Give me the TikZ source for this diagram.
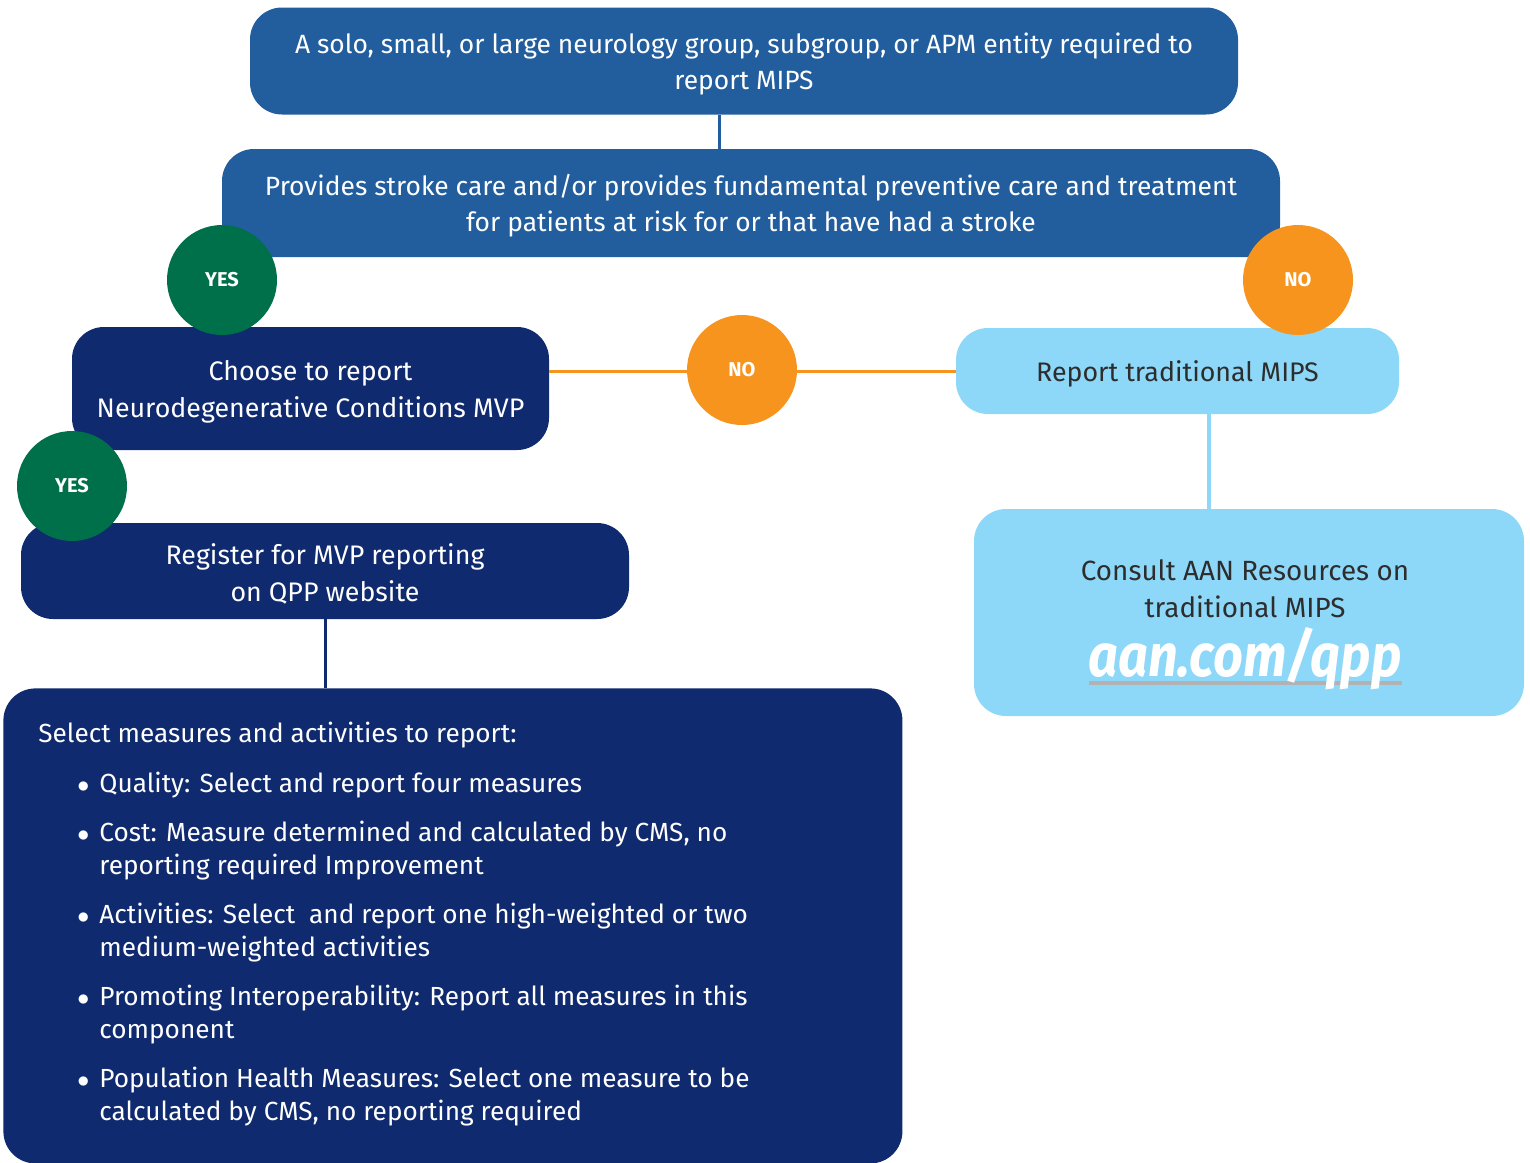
\documentclass[tikz,border=0pt]{standalone}
\usepackage{fontspec}
\setmainfont{Fira Sans}
\definecolor{midblue}{RGB}{34,94,158}
\definecolor{navy}{RGB}{15,42,110}
\definecolor{skyblue}{RGB}{141,216,248}
\definecolor{yesgreen}{RGB}{0,112,74}
\definecolor{noorange}{RGB}{247,148,29}
\definecolor{darktext}{RGB}{45,45,45}
\newcommand{\bul}{\llap{$\bullet$\hspace{5pt}}}
\newcommand{\topline}{\rule{0pt}{1em}}

\begin{document}
\begin{tikzpicture}[x=0.5pt,y=-0.5pt,
    box/.style={rounded corners=16pt, inner sep=0pt, align=center, font=\fontsize{13.4}{18.5}\selectfont, execute at begin node={\topline}},
    midbox/.style={box, fill=midblue, text=white, font=\fontsize{13.2}{18.2}\selectfont},
    darkbox/.style={box, fill=navy, text=white},
    lightbox/.style={box, fill=skyblue, text=darktext},
    answer/.style={circle, minimum size=55pt, inner sep=0pt, text=white, font=\fontsize{10}{10}\selectfont\bfseries},
    yesbubble/.style={answer, fill=yesgreen},
    nobubble/.style={answer, fill=noorange},
    item/.style={anchor=base west, inner sep=0pt, align=left, text=white, font=\fontsize{13.1}{16.5}\selectfont}]
    \useasboundingbox (0,0) rectangle (1530,1162);

    \node[midbox, minimum width=494pt, minimum height=53.5pt] (target) at (744,61) {\topline A solo, small, or large neurology group, subgroup, or APM entity required to\\report MIPS};
    \node[midbox, minimum width=529pt, minimum height=54pt] (stroke) at (751,203) {\topline Provides stroke care and/or provides fundamental preventive care and treatment\\for patients at risk for or that have had a stroke};
    \node[darkbox, minimum width=238.5pt, minimum height=61.5pt] (choose) at (310.5,388.5) {\topline Choose to report\\Neurodegenerative Conditions MVP};
    \node[lightbox, minimum width=221.5pt, minimum height=43pt] (traditional) at (1177.5,371) {Report traditional MIPS};
    \node[lightbox, minimum width=275pt, minimum height=103.5pt] (consult) at (1249,612.5) {};
    \node[darkbox, minimum width=304pt, minimum height=48pt] (register) at (325,571) {\topline Register for MVP reporting\\on QPP website};
    \node[darkbox, anchor=north west, minimum width=449.5pt, minimum height=237.5pt] (measures) at (3,688) {};

    \coordinate (topjoin) at (719,0);
    \coordinate (mipsjoin) at (1209,0);
    \draw[midblue, line width=1.5pt] (topjoin |- target.south) -- (topjoin |- stroke.north);
    \draw[noorange, line width=1.5pt] (choose.east |- traditional.west) -- (traditional.west);
    \draw[skyblue, line width=2pt] (mipsjoin |- traditional.south) -- (mipsjoin |- consult.north);
    \draw[navy, line width=1.5pt] (register.south) -- (register.south |- measures.north);

    \node[yesbubble] (yesstroke) at (222,280) {YES};
    \node[nobubble] (nostroke) at (1298,280) {NO};
    \node[nobubble] (nochoose) at (742,370) {NO};
    \node[yesbubble] (yeschoose) at (72,486) {YES};

    \node[lightbox, fill=none, font=\fontsize{13.9}{18.5}\selectfont] (consulttext) at (1245,588.5) {Consult AAN Resources on\\traditional MIPS};
    \draw[black!30, line width=2pt] (1089,683) -- (1402,683);
    \node[anchor=base, inner sep=0pt, text=white, font=\fontsize{30}{30}\selectfont\bfseries\itshape\addfontfeature{FakeStretch=0.87}] (link) at (1245,676) {aan.com/qpp};

    \node[item] (heading) at (38,742) {Select measures and activities to report:};
    \node[item] (quality) at (99,792) {\bul Quality: Select and report four measures};
    \node[item] (cost) at (99,874) {\bul Cost: Measure determined and calculated by CMS, no\\reporting required Improvement};
    \node[item] (activities) at (99,956) {\bul Activities: Select\ \ and report one high-weighted or two\\medium-weighted activities};
    \node[item] (interop) at (99,1038) {\bul Promoting Interoperability: Report all measures in this\\component};
    \node[item] (population) at (99,1120) {\bul Population Health Measures: Select one measure to be\\calculated by CMS, no reporting required};
\end{tikzpicture}
\end{document}
